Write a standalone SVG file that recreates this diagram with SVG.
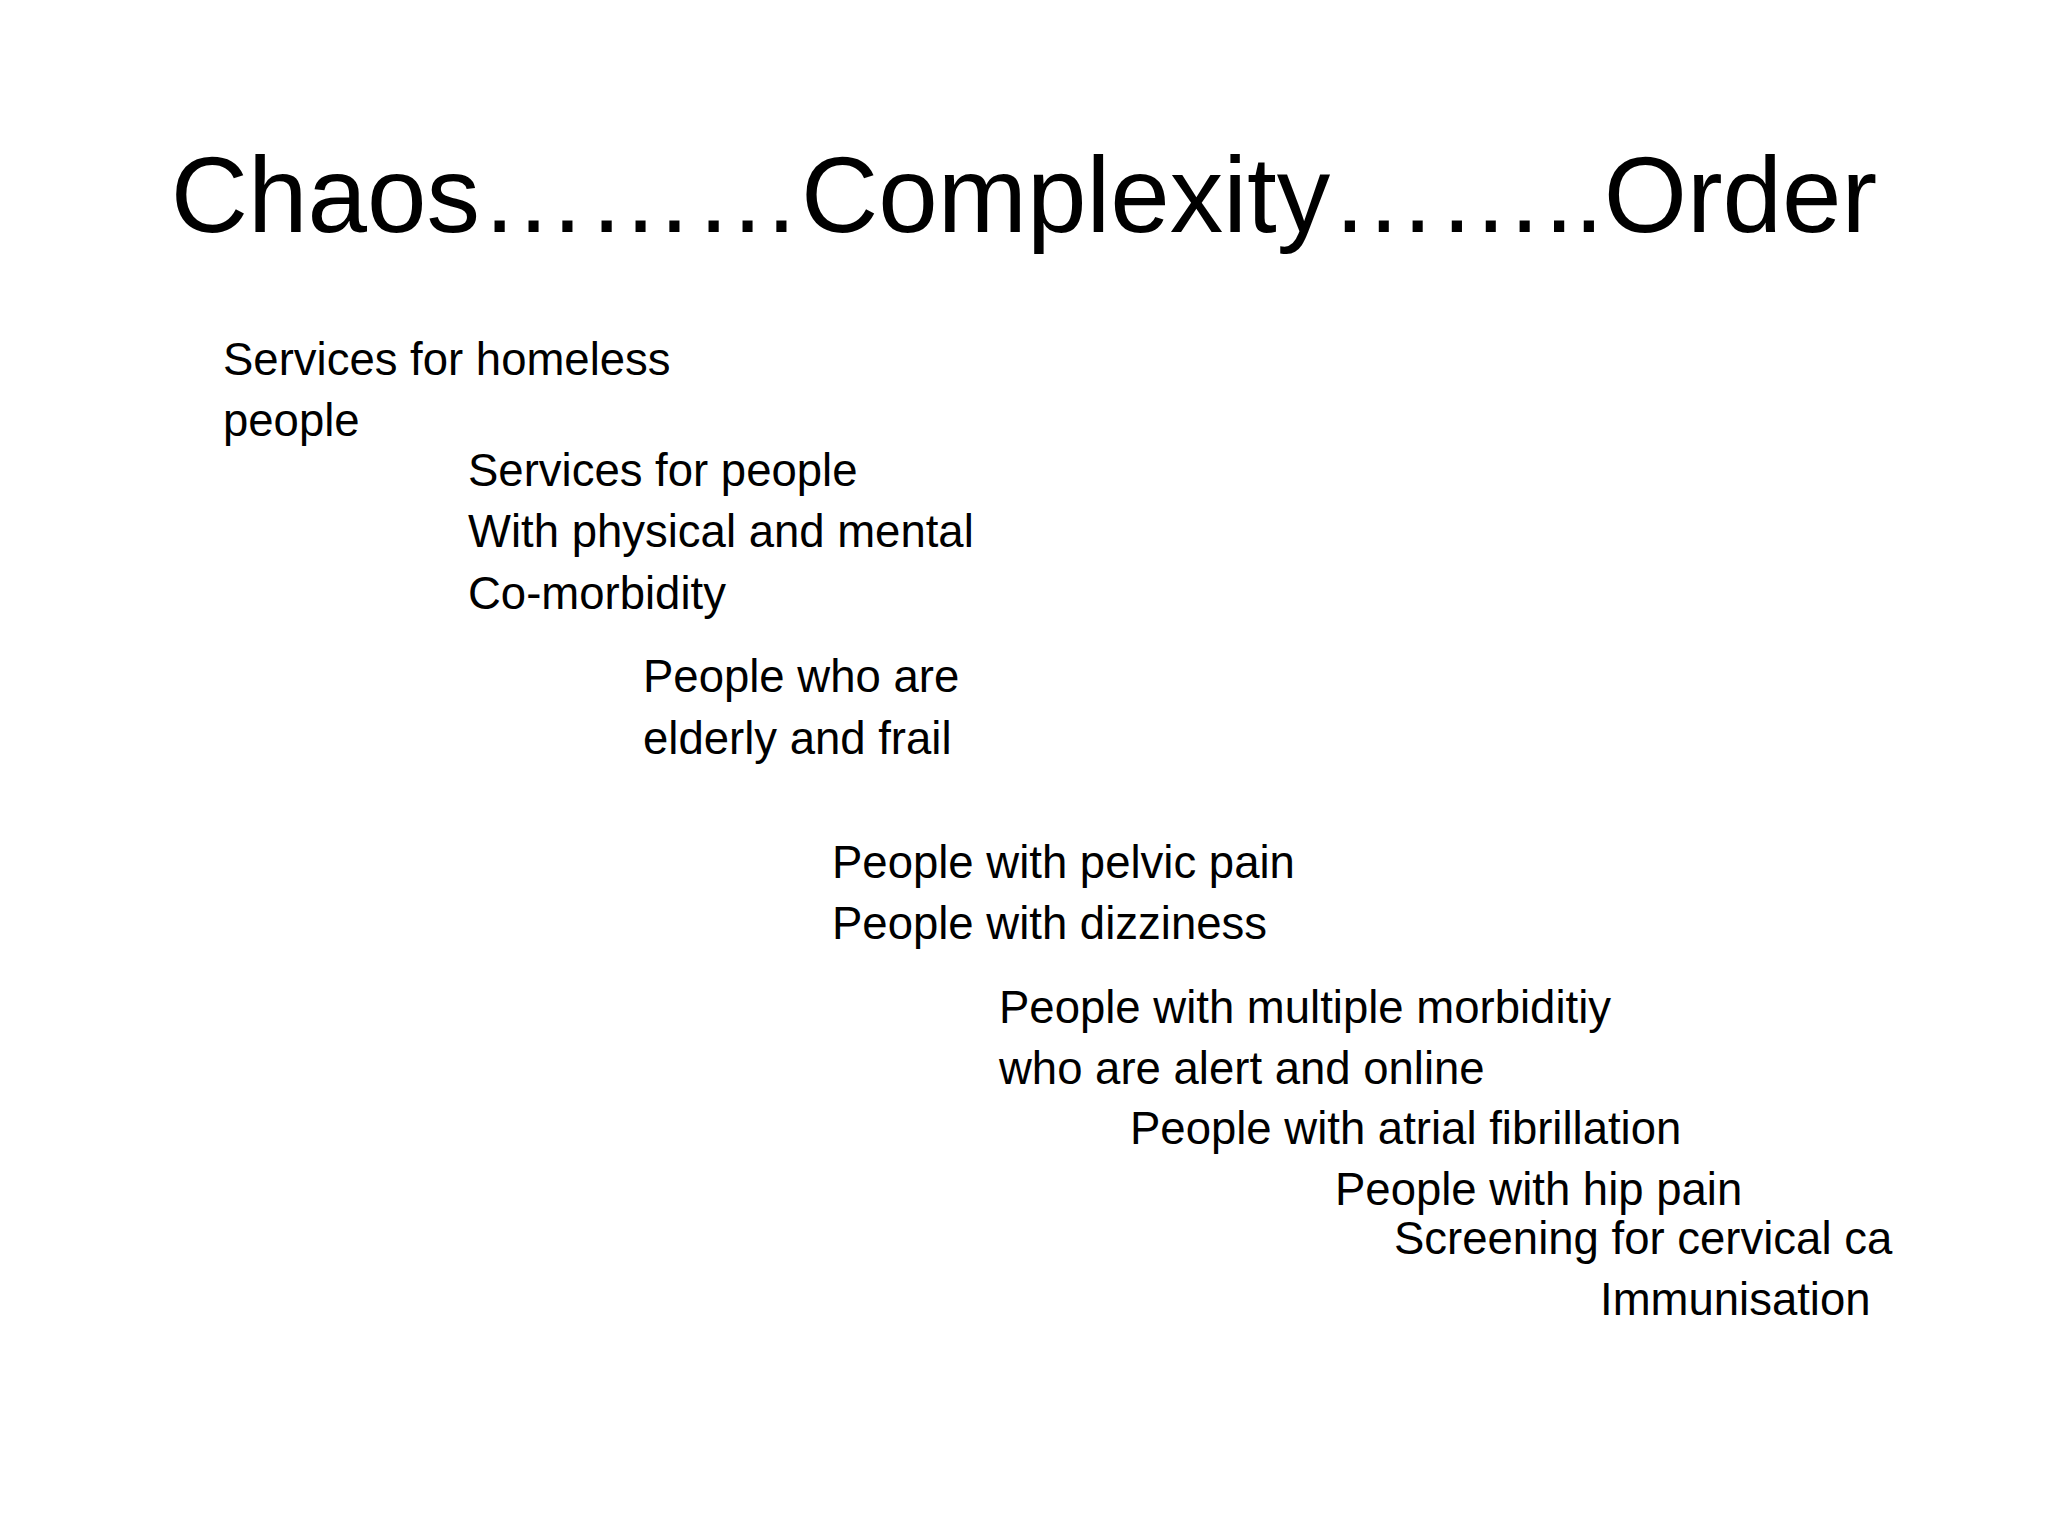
<svg xmlns="http://www.w3.org/2000/svg" width="2048" height="1536" viewBox="0 0 2048 1536">
<style>
text{font-family:"Liberation Sans","DejaVu Sans",sans-serif;fill:#000}
.t{font-size:107px}
.b{font-size:45.5px}
</style>
<rect width="2048" height="1536" fill="#fff"/>
<g id="title"><text class="t" x="1024" y="232" text-anchor="middle">Chaos………Complexity……..Order</text></g>
<g id="n1"><text class="b" x="223" y="375">Services for homeless</text><text class="b" x="223" y="436">people</text></g>
<g id="n2"><text class="b" x="468" y="486">Services for people</text><text class="b" x="468" y="547">With physical and mental</text><text class="b" x="468" y="609">Co-morbidity</text></g>
<g id="n3"><text class="b" x="643" y="692">People who are</text><text class="b" x="643" y="754">elderly and frail</text></g>
<g id="n4"><text class="b" x="832" y="878">People with pelvic pain</text><text class="b" x="832" y="939">People with dizziness</text></g>
<g id="n5"><text class="b" x="999" y="1023">People with multiple morbiditiy</text><text class="b" x="999" y="1084">who are alert and online</text></g>
<g id="n6"><text class="b" x="1130" y="1144">People with atrial fibrillation</text></g>
<g id="n7"><text class="b" x="1335" y="1205">People with hip pain</text></g>
<g id="n8"><text class="b" x="1394" y="1254">Screening for cervical ca</text></g>
<g id="n9"><text class="b" x="1600" y="1315">Immunisation</text></g>
<g id="connectors"/>
</svg>
